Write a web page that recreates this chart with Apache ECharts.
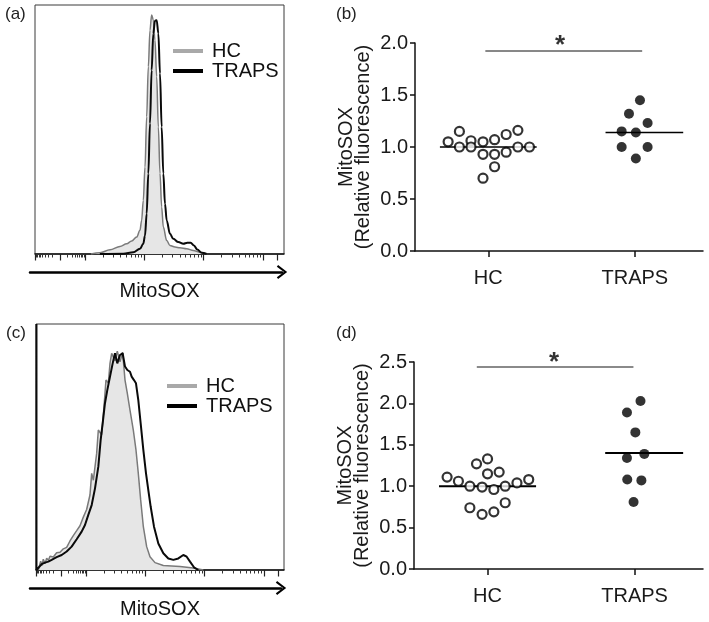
<!DOCTYPE html>
<html><head><meta charset="utf-8">
<script src="https://cdn.jsdelivr.net/npm/echarts@6/dist/echarts.min.js"></script>
<style>html,body{margin:0;padding:0;background:#fff}#c{width:709px;height:622px}</style>
</head><body><div id="c"></div>
<script>
// ---------- data ----------
const categories = ['HC', 'TRAPS'];
const panelLabels = ['(a)', '(b)', '(c)', '(d)'];
const axisTitle = 'MitoSOX';
const yTitle = 'MitoSOX\n(Relative fluorescence)';

// (a) histograms: x = log10 fluorescence, y = % of max
const histA_HC_x = [2.10,2.253,2.422,2.590,2.703,2.787,2.871,2.927,2.955,2.983,3.012,3.040,3.068,3.096,3.124,3.152,3.180,3.209,3.237,3.265,3.293,3.321,3.378,3.433,3.518,3.602,3.715,3.827,3.939,4.052];
const histA_HC_y = [0,0.5,1.7,3.0,4.1,5.2,6.8,9.5,13.5,21.5,34.9,55.1,75.2,89.9,96.0,94.0,85.9,71.2,51.0,32.3,18.9,10.8,5.4,3.4,2.8,2.5,2.1,1.4,0.7,0];
const histA_TR_x = [2.25,2.646,2.815,2.927,2.983,3.012,3.040,3.068,3.096,3.124,3.152,3.180,3.209,3.237,3.265,3.293,3.321,3.349,3.378,3.433,3.489,3.574,3.658,3.726,3.782,3.838,3.893,3.968,4.052];
const histA_TR_y = [0,0.1,0.7,2.1,4.1,7.4,16.2,32.3,52.4,73.8,88.6,93.7,93.9,88.6,72.5,51.0,32.3,20.2,13.5,8.1,6.1,4.8,4.1,4.5,4.5,3.4,1.8,0.5,0];

// (c) histograms
const histC_HC_x = [1.196,1.236,1.258,1.280,1.310,1.337,1.365,1.393,1.449,1.505,1.562,1.618,1.674,1.730,1.786,1.843,1.899,1.955,2.011,2.067,2.096,2.124,2.180,2.208,2.264,2.304,2.337,2.377,2.405,2.433,2.489,2.528,2.573,2.618,2.658,2.697,2.742,2.798,2.843,2.882,2.922,2.967,3.023,3.079,3.164,3.304,3.585,3.810,3.979];
const histC_HC_y = [0,3.6,1.8,4.4,2.6,4.8,3.9,5.6,5.3,7.0,7.2,8.6,9.2,11.8,14.0,16.0,18.0,21.5,24.6,30.5,39.3,36.5,47.4,56.9,55.0,66.4,77.2,76.0,84.0,88.1,85.0,89.0,84.6,88.5,77.2,71.8,65.0,56.9,48.8,39.3,28.5,17.6,9.5,5.4,3.0,1.8,1.4,0.8,0];
const histC_TR_x = [1.165,1.165,1.196,1.253,1.280,1.309,1.365,1.421,1.505,1.590,1.674,1.758,1.843,1.927,1.983,2.039,2.096,2.152,2.208,2.247,2.281,2.320,2.360,2.405,2.450,2.489,2.528,2.573,2.618,2.658,2.697,2.742,2.770,2.809,2.843,2.882,2.922,2.967,3.012,3.051,3.091,3.147,3.220,3.304,3.388,3.473,3.557,3.641,3.698,3.754,3.821,3.894];
const histC_TR_y = [100,0,0,2.4,1.6,3.0,3.4,4.1,5.2,6.1,7.5,9.5,12.5,15.6,18.3,22.4,26.4,33.2,42.0,52.8,59.6,67.8,73.2,78.6,84.0,88.1,84.0,87.4,88.1,82.7,81.3,80.6,78.6,77.2,75.9,69.1,59.6,48.8,39.3,32.5,25.7,17.6,10.8,6.8,4.7,4.1,4.7,6.1,5.4,3.4,1.1,0];

// (b) MitoSOX relative fluorescence, individual subjects
const hcB = [1.05,1.15,1.00,1.06,1.00,1.05,0.93,0.70,1.07,0.93,0.81,0.95,1.12,1.16,1.00,1.00];
const hcBSpread = [-0.274,-0.197,-0.197,-0.118,-0.118,-0.036,-0.036,-0.036,0.043,0.043,0.043,0.122,0.122,0.202,0.202,0.281];
const trapsB = [1.45,1.32,1.23,1.15,1.14,1.00,1.00,0.89];
const trapsBSpread = [0.035,-0.04,0.087,-0.09,0.007,-0.09,0.087,0.007];
const meanB = [1.00, 1.14];
const sigB = [0.98, 2.05, 1.923];   // from, to, level

// (d)
const hcD = [1.11,1.06,1.00,0.74,1.27,0.99,0.66,1.33,1.15,0.96,0.69,1.17,1.00,0.80,1.04,1.08];
const hcDSpread = [-0.275,-0.198,-0.12,-0.12,-0.075,-0.037,-0.037,0,0,0.043,0.043,0.079,0.12,0.12,0.2,0.28];
const trapsD = [2.03,1.89,1.65,1.39,1.34,1.08,1.07,0.81];
const trapsDSpread = [0.04,-0.052,0.005,0.066,-0.052,-0.05,0.046,-0.007];
const meanD = [1.00, 1.40];
const sigD = [0.927, 1.992, 2.44];

// ---------- helpers ----------
const FONT = 'Liberation Sans, Arial, Helvetica, sans-serif';
const pairs = (xs, ys) => xs.map((x, i) => [x, ys[i]]);
const log = Math.log10;
const histMajor = [1.157, 1.58, 2, 3, 4, 5, 5.25];
const histMinor = [];
for (let k = 2; k <= 9; k++) {
  histMinor.push(1.58 - 0.42 * log(k), 1.58 + 0.42 * log(k));
  for (const d of [2, 3, 4]) histMinor.push(d + log(k));
}
const arrowPath = 'path://M10,0 L20,13 L17.6,14.8 L10,4.6 L2.4,14.8 L0,13 Z';

function histAxes(grid, min, max) {
  return [
    { type: 'value', gridIndex: grid, position: 'bottom', min, max,
      axisLine: { show: true, onZero: false, lineStyle: { color: '#111', width: 1.5 } },
      axisTick: { show: true, customValues: histMinor, length: 3.5, lineStyle: { color: '#333', width: 1 } },
      axisLabel: { show: false }, splitLine: { show: false } },
    { type: 'value', gridIndex: grid, position: 'bottom', min, max,
      axisLine: { show: false },
      axisTick: { show: true, customValues: histMajor, length: 6.5, lineStyle: { color: '#222', width: 1.2 } },
      axisLabel: { show: false }, splitLine: { show: false },
      name: axisTitle, nameLocation: 'middle', nameGap: grid === 0 ? 27 : 29,
      nameTextStyle: { fontSize: 20, color: '#111', fontFamily: FONT } }
  ];
}
function arrowAxis(grid) {
  return { type: 'value', gridIndex: grid, position: 'bottom', min: 0, max: 1,
    axisLine: { show: true, onZero: false, symbol: ['none', arrowPath], symbolSize: [14, 11],
      lineStyle: { color: '#000', width: 2.5 } },
    axisTick: { show: false }, axisLabel: { show: false }, splitLine: { show: false } };
}
function dotXAxis(grid) {
  return { type: 'value', gridIndex: grid, position: 'bottom', min: 0.5, max: 2.465,
    axisLine: { show: true, onZero: false, lineStyle: { color: '#111', width: 1.5 } },
    axisTick: { show: true, customValues: [1, 2], length: 6, lineStyle: { color: '#111', width: 1.5 } },
    axisLabel: { show: true, customValues: [1, 2], margin: 17, fontSize: 20, color: '#1a1a1a', fontFamily: FONT,
      formatter: v => categories[Math.round(v) - 1] || '' },
    splitLine: { show: false } };
}
function dotYAxis(grid, max) {
  return { type: 'value', gridIndex: grid, min: 0, max, interval: 0.5,
    axisLine: { show: true, lineStyle: { color: '#111', width: 1.5 } },
    axisTick: { show: true, length: 5, lineStyle: { color: '#111', width: 1.5 } },
    axisLabel: { fontSize: 20, margin: 7, color: '#1a1a1a', fontFamily: FONT, formatter: v => v.toFixed(1) },
    splitLine: { show: false },
    name: yTitle, nameLocation: 'middle', nameRotate: 90, nameGap: 43,
    nameTextStyle: { fontSize: 20, lineHeight: 17, color: '#1a1a1a', fontFamily: FONT } };
}
const hidY = g => ({ type: 'value', gridIndex: g, min: 0, max: 100, show: false });

function histSeries(xi, yi, hx, hy, tx, ty, smooth) {
  return [
    { name: 'HC', type: 'line', xAxisIndex: xi, yAxisIndex: yi, data: pairs(hx, hy), showSymbol: false, symbol: 'none',
      smooth: smooth, smoothMonotone: 'x', z: 2,
      lineStyle: { color: '#7a7a7a', width: 1.5 }, itemStyle: { color: '#a9a9a9' },
      areaStyle: { color: '#e6e6e6', opacity: 1 } },
    { name: 'TRAPS', type: 'line', xAxisIndex: xi, yAxisIndex: yi, data: pairs(tx, ty), showSymbol: false, symbol: 'none',
      smooth: smooth, smoothMonotone: 'x', z: 3,
      lineStyle: { color: '#0a0a0a', width: 2 }, itemStyle: { color: '#000' } }
  ];
}
function dotSeries(xi, yi, hc, hcS, tr, trS, mean, sig, starY, starX, sigColor, sigWidth, meanWidth) {
  return [
    { name: 'HC pts', type: 'scatter', xAxisIndex: xi, yAxisIndex: yi, z: 4,
      data: hc.map((v, i) => [1 + hcS[i], v]), symbolSize: 9,
      itemStyle: { color: '#fff', borderColor: '#000', borderWidth: 2.2 } },
    { name: 'TRAPS pts', type: 'scatter', xAxisIndex: xi, yAxisIndex: yi, z: 4,
      data: tr.map((v, i) => [2 + trS[i], v]), symbolSize: 10,
      itemStyle: { color: '#000' } },
    { name: 'HC mean', type: 'line', xAxisIndex: xi, yAxisIndex: yi, symbol: 'none', z: 3,
      data: [[1 - 0.33, mean[0]], [1 + 0.33, mean[0]]], lineStyle: { color: '#000', width: meanWidth } },
    { name: 'TRAPS mean', type: 'line', xAxisIndex: xi, yAxisIndex: yi, symbol: 'none', z: 3,
      data: [[2 - 0.2, mean[1]], [2 + 0.33, mean[1]]], lineStyle: { color: '#000', width: meanWidth } },
    { name: 'sig', type: 'line', xAxisIndex: xi, yAxisIndex: yi, symbol: 'none', clip: false,
      data: [[sig[0], sig[2]], [sig[1], sig[2]]], lineStyle: { color: sigColor, width: sigWidth } },
    { name: 'star', type: 'scatter', xAxisIndex: xi, yAxisIndex: yi, clip: false, symbolSize: 1,
      itemStyle: { color: 'rgba(0,0,0,0)' }, data: [[starX, starY]],
      label: { show: true, position: 'inside', formatter: '*', fontSize: 26, fontWeight: 'bold', color: '#000', fontFamily: FONT } }
  ];
}

const legendCfg = (left, top) => ({
  left, top, orient: 'vertical', icon: 'rect', itemWidth: 30, itemHeight: 4, itemGap: 0, selectedMode: false,
  textStyle: { fontSize: 20, color: '#111', fontFamily: FONT, padding: [0, 0, 0, 4] },
  data: [{ name: 'HC', itemStyle: { color: '#a9a9a9' } }, { name: 'TRAPS', itemStyle: { color: '#000' } }]
});

const titleCfg = (text, left, top) => ({ text, left, top, textStyle: { fontSize: 17, fontWeight: 'normal', color: '#222', fontFamily: FONT } });

const option = {
  animation: false,
  backgroundColor: '#fff',
  textStyle: { fontFamily: FONT },
  title: [titleCfg(panelLabels[0], 0, 1), titleCfg(panelLabels[1], 331, 1), titleCfg(panelLabels[2], 1, 320), titleCfg(panelLabels[3], 331, 320)],
  legend: [legendCfg(168, 36), legendCfg(162, 371)],
  grid: [
    { left: 35, top: 5, width: 249, height: 249, show: true, borderColor: '#3a3a3a', borderWidth: 1, outerBoundsMode: 'none' },
    { left: 30, top: 262, width: 252, height: 10, outerBoundsMode: 'none' },
    { left: 415, top: 43, width: 288, height: 208, outerBoundsMode: 'none' },
    { left: 36, top: 324, width: 248, height: 246, show: true, borderColor: '#3a3a3a', borderWidth: 1, outerBoundsMode: 'none' },
    { left: 30, top: 578, width: 251, height: 10, outerBoundsMode: 'none' },
    { left: 414, top: 362, width: 289, height: 207, outerBoundsMode: 'none' }
  ],
  xAxis: [
    ...histAxes(0, 1.157, 5.356),   // 0,1
    arrowAxis(1),                   // 2
    dotXAxis(2),                    // 3
    ...histAxes(3, 1.157, 5.339),   // 4,5
    arrowAxis(4),                   // 6
    dotXAxis(5)                     // 7
  ],
  yAxis: [
    hidY(0), hidY(1), dotYAxis(2, 2.0), hidY(3), hidY(4), dotYAxis(5, 2.5)
  ],
  series: [
    ...histSeries(0, 0, histA_HC_x, histA_HC_y, histA_TR_x, histA_TR_y, 0.35),
    ...histSeries(4, 3, histC_HC_x, histC_HC_y, histC_TR_x, histC_TR_y, false),
    ...dotSeries(3, 2, hcB, hcBSpread, trapsB, trapsBSpread, meanB, sigB, 1.97, 1.489, '#111', 1, 1.5),
    ...dotSeries(7, 5, hcD, hcDSpread, trapsD, trapsDSpread, meanD, sigD, 2.49, 1.452, '#8a8a8a', 2, 2)
  ]
};
const chart = echarts.init(document.getElementById('c'), null, { renderer: 'canvas' });
chart.setOption(option);
</script>
</body></html>
